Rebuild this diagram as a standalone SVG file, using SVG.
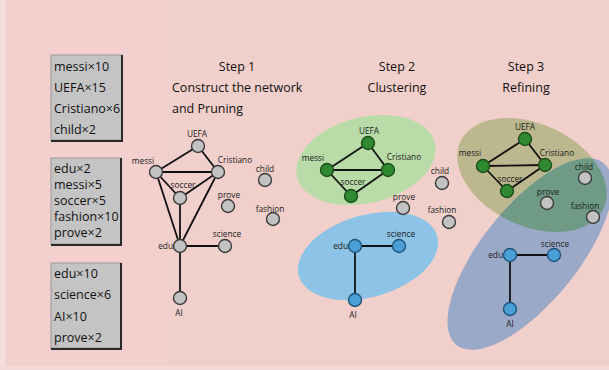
<svg xmlns="http://www.w3.org/2000/svg" width="609" height="370" viewBox="0 0 609 370">
<defs>
<style>
.bg{fill:#f1cfcb}
.box{fill:#c4c4c4;stroke:#9a9a9a;stroke-width:1}
.sh{stroke:#2a2a2a;stroke-width:2;fill:none}
.bt{font-family:"Open Sans","Liberation Sans",sans-serif;font-size:12.5px;fill:#111}
.tt{font-family:"Open Sans","Liberation Sans",sans-serif;font-size:12.5px;fill:#111}
.lb{font-family:"Open Sans","Liberation Sans",sans-serif;font-size:8.3px;fill:#1a1a1a}
.e{stroke:#111;stroke-width:1.8;fill:none}
.g{fill:#c2c2c2;stroke:#3a3a3a;stroke-width:1.4}
.gr{fill:#2f8a2f;stroke:#1d4f1d;stroke-width:1.4}
.bl{fill:#4a9fd6;stroke:#1f5478;stroke-width:1.4}
</style>
<clipPath id="olv"><ellipse cx="532" cy="175" rx="79" ry="51" transform="rotate(25 532 175)"/></clipPath>
</defs>
<rect class="bg" x="0" y="0" width="609" height="370"/>
<rect x="0" y="0" width="6" height="370" fill="#f6dcda"/>
<rect x="7" y="0" width="157" height="366" fill="#f3cfce"/>
<rect x="0" y="366" width="609" height="4" fill="#f5dad8"/>

<g id="box1">
<rect class="box" x="51" y="55" width="71" height="85"/>
<path class="sh" d="M122 55V141H51"/>
<text class="bt" x="54" y="71">messi×10</text>
<text class="bt" x="54" y="92">UEFA×15</text>
<text class="bt" x="54" y="113">Cristiano×6</text>
<text class="bt" x="54" y="134">child×2</text>
</g>
<g id="box2">
<rect class="box" x="51" y="158" width="70" height="86"/>
<path class="sh" d="M121 158V245H51"/>
<text class="bt" x="54" y="173">edu×2</text>
<text class="bt" x="54" y="189">messi×5</text>
<text class="bt" x="54" y="205">soccer×5</text>
<text class="bt" x="54" y="221">fashion×10</text>
<text class="bt" x="54" y="237">prove×2</text>
</g>
<g id="box3">
<rect class="box" x="51" y="263" width="70" height="85"/>
<path class="sh" d="M121 263V349H51"/>
<text class="bt" x="54" y="278">edu×10</text>
<text class="bt" x="54" y="299">science×6</text>
<text class="bt" x="54" y="321">AI×10</text>
<text class="bt" x="54" y="342">prove×2</text>
</g>

<g id="titles">
<text class="tt" x="237" y="71" text-anchor="middle">Step 1</text>
<text class="tt" x="172" y="92">Construct the network</text>
<text class="tt" x="172" y="113">and Pruning</text>
<text class="tt" x="397" y="71" text-anchor="middle">Step 2</text>
<text class="tt" x="397" y="92" text-anchor="middle">Clustering</text>
<text class="tt" x="526" y="71" text-anchor="middle">Step 3</text>
<text class="tt" x="526" y="92" text-anchor="middle">Refining</text>
</g>

<g id="clusters">
<ellipse cx="366" cy="160" rx="71" ry="43" transform="rotate(-14 366 160)" fill="#b8dba8"/>
<ellipse cx="368" cy="256" rx="72" ry="41" transform="rotate(-16 368 256)" fill="#8dc3e6"/>
<ellipse cx="532" cy="175" rx="79" ry="51" transform="rotate(25 532 175)" fill="#bcb78e"/>
<ellipse cx="530" cy="254" rx="117" ry="48" transform="rotate(-51 530 254)" fill="#9aa9c8"/>
<g clip-path="url(#olv)">
<ellipse cx="530" cy="254" rx="117" ry="48" transform="rotate(-51 530 254)" fill="#6e9a86"/>
</g>
</g>

<g id="connectors">
<line class="e" x1="156" y1="172" x2="198" y2="146"/>
<line class="e" x1="198" y1="146" x2="218" y2="172"/>
<line class="e" x1="156" y1="172" x2="218" y2="172"/>
<line class="e" x1="156" y1="172" x2="180" y2="198"/>
<line class="e" x1="180" y1="198" x2="218" y2="172"/>
<line class="e" x1="156" y1="172" x2="180" y2="246"/>
<line class="e" x1="218" y1="172" x2="180" y2="246"/>
<line class="e" x1="180" y1="198" x2="180" y2="246"/>
<line class="e" x1="180" y1="246" x2="225" y2="246"/>
<line class="e" x1="180" y1="246" x2="180" y2="298"/>

<line class="e" x1="327" y1="170" x2="368" y2="143"/>
<line class="e" x1="368" y1="143" x2="388" y2="170"/>
<line class="e" x1="327" y1="170" x2="388" y2="170"/>
<line class="e" x1="327" y1="170" x2="351" y2="196"/>
<line class="e" x1="351" y1="196" x2="388" y2="170"/>
<line class="e" x1="355" y1="246" x2="399" y2="246"/>
<line class="e" x1="355" y1="246" x2="355" y2="300"/>

<line class="e" x1="483" y1="166" x2="525" y2="139"/>
<line class="e" x1="525" y1="139" x2="545" y2="165"/>
<line class="e" x1="483" y1="166" x2="545" y2="165"/>
<line class="e" x1="483" y1="166" x2="507" y2="191"/>
<line class="e" x1="507" y1="191" x2="545" y2="165"/>
<line class="e" x1="510" y1="255" x2="554" y2="255"/>
<line class="e" x1="510" y1="255" x2="510" y2="309"/>
</g>

<!-- Step 1 nodes -->
<g id="s1-uefa"><circle class="g" cx="198" cy="146" r="6.5"/><text class="lb" x="197" y="137" text-anchor="middle">UEFA</text></g>
<g id="s1-messi"><circle class="g" cx="156" cy="172" r="6.5"/><text class="lb" x="143" y="164" text-anchor="middle">messi</text></g>
<g id="s1-cristiano"><circle class="g" cx="218" cy="172" r="6.5"/><text class="lb" x="235" y="163" text-anchor="middle">Cristiano</text></g>
<g id="s1-soccer"><circle class="g" cx="180" cy="198" r="6.5"/><text class="lb" x="183" y="188" text-anchor="middle">soccer</text></g>
<g id="s1-edu"><circle class="g" cx="180" cy="246" r="6.5"/><text class="lb" x="173" y="249" text-anchor="end">edu</text></g>
<g id="s1-ai"><circle class="g" cx="180" cy="298" r="6.5"/><text class="lb" x="179" y="316" text-anchor="middle">AI</text></g>
<g id="s1-science"><circle class="g" cx="225" cy="246" r="6.5"/><text class="lb" x="227" y="237" text-anchor="middle">science</text></g>
<g id="s1-prove"><circle class="g" cx="228" cy="206" r="6.5"/><text class="lb" x="229" y="198" text-anchor="middle">prove</text></g>
<g id="s1-child"><circle class="g" cx="265" cy="180" r="6.5"/><text class="lb" x="265" y="172" text-anchor="middle">child</text></g>
<g id="s1-fashion"><circle class="g" cx="273" cy="219" r="6.5"/><text class="lb" x="270" y="212" text-anchor="middle">fashion</text></g>

<!-- Step 2 nodes -->
<g id="s2-uefa"><circle class="gr" cx="368" cy="143" r="6.5"/><text class="lb" x="369" y="134" text-anchor="middle">UEFA</text></g>
<g id="s2-messi"><circle class="gr" cx="327" cy="170" r="6.5"/><text class="lb" x="313" y="161" text-anchor="middle">messi</text></g>
<g id="s2-cristiano"><circle class="gr" cx="388" cy="170" r="6.5"/><text class="lb" x="404" y="160" text-anchor="middle">Cristiano</text></g>
<g id="s2-soccer"><circle class="gr" cx="351" cy="196" r="6.5"/><text class="lb" x="353" y="185" text-anchor="middle">soccer</text></g>
<g id="s2-child"><circle class="g" cx="442" cy="183" r="6.5"/><text class="lb" x="440" y="174" text-anchor="middle">child</text></g>
<g id="s2-prove"><circle class="g" cx="403" cy="208" r="6.5"/><text class="lb" x="404" y="200" text-anchor="middle">prove</text></g>
<g id="s2-fashion"><circle class="g" cx="449" cy="222" r="6.5"/><text class="lb" x="442" y="213" text-anchor="middle">fashion</text></g>
<g id="s2-edu"><circle class="bl" cx="355" cy="246" r="6.5"/><text class="lb" x="348" y="249" text-anchor="end">edu</text></g>
<g id="s2-science"><circle class="bl" cx="399" cy="246" r="6.5"/><text class="lb" x="401" y="237" text-anchor="middle">science</text></g>
<g id="s2-ai"><circle class="bl" cx="355" cy="300" r="6.5"/><text class="lb" x="353" y="318" text-anchor="middle">AI</text></g>

<!-- Step 3 nodes -->
<g id="s3-uefa"><circle class="gr" cx="525" cy="139" r="6.5"/><text class="lb" x="525" y="130" text-anchor="middle">UEFA</text></g>
<g id="s3-messi"><circle class="gr" cx="483" cy="166" r="6.5"/><text class="lb" x="470" y="156" text-anchor="middle">messi</text></g>
<g id="s3-cristiano"><circle class="gr" cx="545" cy="165" r="6.5"/><text class="lb" x="557" y="156" text-anchor="middle">Cristiano</text></g>
<g id="s3-soccer"><circle class="gr" cx="507" cy="191" r="6.5"/><text class="lb" x="510" y="182" text-anchor="middle">soccer</text></g>
<g id="s3-child"><circle class="g" cx="585" cy="178" r="6.5"/><text class="lb" x="584" y="170" text-anchor="middle">child</text></g>
<g id="s3-prove"><circle class="g" cx="547" cy="203" r="6.5"/><text class="lb" x="548" y="195" text-anchor="middle">prove</text></g>
<g id="s3-fashion"><circle class="g" cx="593" cy="217" r="6.5"/><text class="lb" x="585" y="209" text-anchor="middle">fashion</text></g>
<g id="s3-edu"><circle class="bl" cx="510" cy="255" r="6.5"/><text class="lb" x="503" y="258" text-anchor="end">edu</text></g>
<g id="s3-science"><circle class="bl" cx="554" cy="255" r="6.5"/><text class="lb" x="555" y="247" text-anchor="middle">science</text></g>
<g id="s3-ai"><circle class="bl" cx="510" cy="309" r="6.5"/><text class="lb" x="510" y="327" text-anchor="middle">AI</text></g>
</svg>
